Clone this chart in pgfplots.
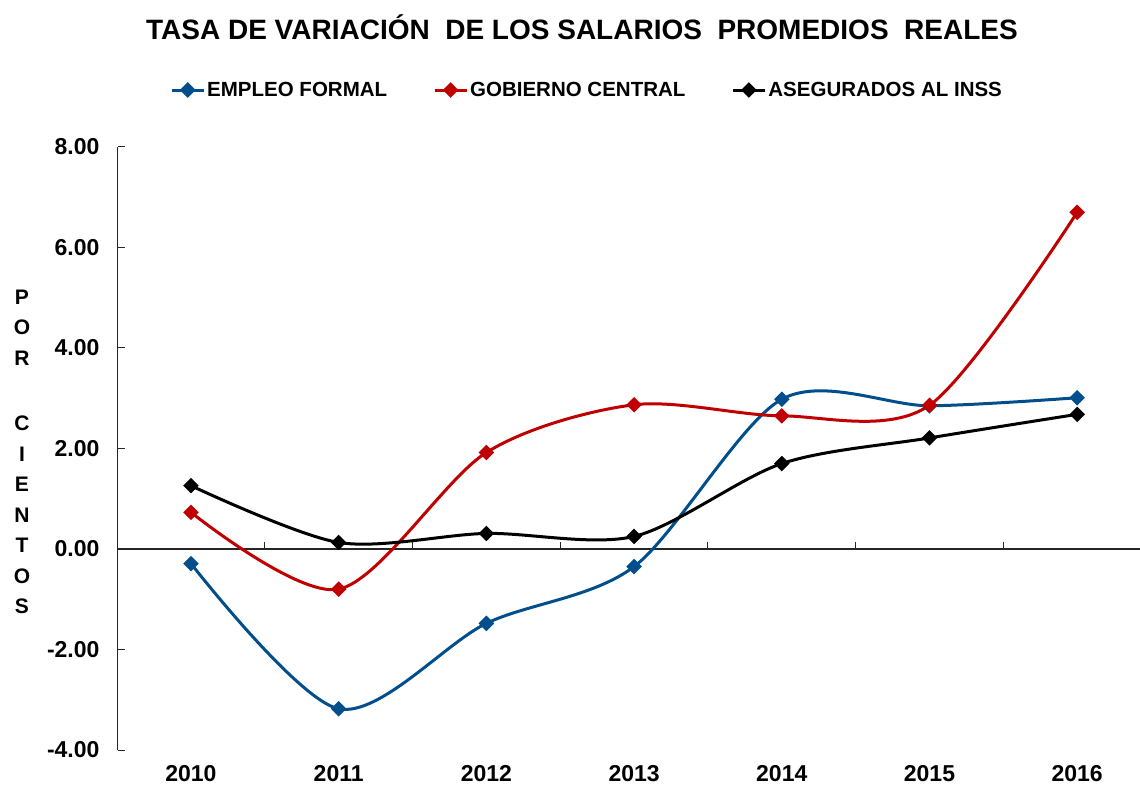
\documentclass[border=0pt]{standalone}
\usepackage{pgfplots}
\pgfplotsset{compat=1.18}
\usepackage{fontspec}
\setmainfont{Liberation Sans}
\definecolor{cblue}{RGB}{0,78,139}
\definecolor{cred}{RGB}{192,0,0}
\begin{document}
\begin{tikzpicture}
\useasboundingbox (-118pt,-42pt) rectangle (1022pt,750pt);
\node[anchor=base, font=\fontsize{28}{28}\selectfont\bfseries] at (464pt,710pt) {TASA DE VARIACIÓN\ \ DE LOS SALARIOS\ \ PROMEDIOS\ \ REALES};
\node[align=center, font=\fontsize{21}{30.5}\selectfont\bfseries] at (-96pt,298pt) {P\\O\\R\\[35pt]C\\I\\E\\N\\T\\O\\S};
\begin{axis}[
  scale only axis, width=1022pt, height=603pt,
  xmin=-0.494, xmax=6.425, ymin=-4, ymax=8,
  axis y line*=left, axis x line*=bottom,
  x axis line style={draw=none},
  y axis line style={line width=1pt, black!85},
  xtick={0,1,2,3,4,5,6},
  xticklabels={2010,2011,2012,2013,2014,2015,2016},
  xtick style={draw=none},
  ytick={-4,-2,0,2,4,6,8},
  tick align=inside, major tick length=7pt,
  ytick style={line width=1pt, black!85},
  /pgf/number format/assume math mode=true,
  yticklabel={\pgfmathprintnumber[fixed,fixed zerofill,precision=2]{\tick}},
  yticklabel style={font=\fontsize{23}{23}\selectfont\bfseries, xshift=-15pt},
  xticklabel style={font=\fontsize{23}{23}\selectfont\bfseries, yshift=-12pt},
  extra y ticks={0}, extra y tick labels={},
  extra y tick style={grid=major, major grid style={black!85, line width=1.3pt}},
  legend columns=3,
  legend style={at={(axis description cs:0.459,1.0945)}, anchor=center, draw=none,
    font=\fontsize{20.5}{20.5}\selectfont\bfseries, inner sep=0pt,
    /tikz/every even column/.append style={column sep=44pt}},
  legend image code/.code={\draw[mark repeat=2,mark phase=2] plot coordinates {(0pt,0pt) (16pt,0pt) (32pt,0pt)};},
  every axis plot/.append style={line width=3pt, smooth, tension=0.5, mark=square*, mark size=4pt, mark options={solid, rotate=45}},
  clip=false,
]
\addplot[cblue] coordinates {(0,-0.29) (1,-3.18) (2,-1.48) (3,-0.35) (4,2.98) (5,2.85) (6,3.01)};
\addlegendentry{EMPLEO FORMAL}
\addplot[cred] coordinates {(0,0.73) (1,-0.80) (2,1.92) (3,2.87) (4,2.65) (5,2.86) (6,6.70)};
\addlegendentry{GOBIERNO CENTRAL}
\addplot[black] coordinates {(0,1.26) (1,0.13) (2,0.31) (3,0.25) (4,1.70) (5,2.21) (6,2.68)};
\addlegendentry{ASEGURADOS AL INSS}
\foreach \k in {0.5,1.5,2.5,3.5,4.5,5.5} {
  \edef\temp{\noexpand\draw[black!85, line width=1pt] (axis cs:\k,0) -- ++(0pt,7pt);}
  \temp
}
\end{axis}
\end{tikzpicture}
\end{document}
